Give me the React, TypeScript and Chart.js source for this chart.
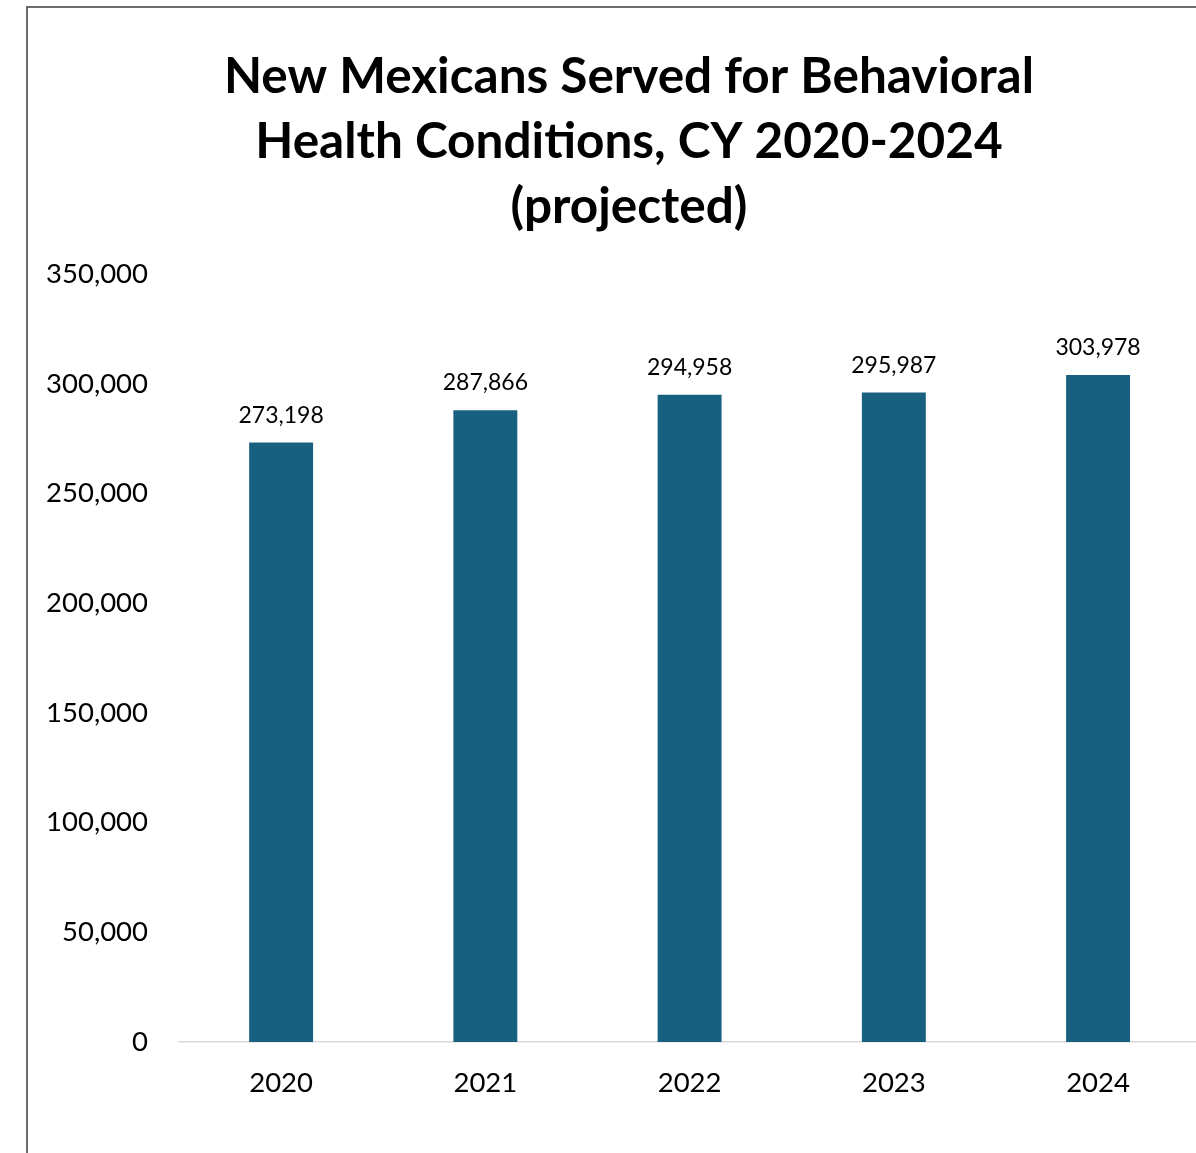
import React, { useEffect, useRef } from "react";
import { Chart, registerables } from "chart.js";

Chart.register(...registerables);

const categories = ["2020", "2021", "2022", "2023", "2024"];
const served = [273198, 287866, 294958, 295987, 303978];
const titleLines = [
  "New Mexicans Served for Behavioral",
  "Health Conditions, CY 2020-2024",
  "(projected)",
];

const FONT = "Lato, 'Open Sans', sans-serif";

const valueLabels = {
  id: "valueLabels",
  afterDatasetsDraw(chart: any) {
    const ctx = chart.ctx;
    const meta = chart.getDatasetMeta(0);
    ctx.save();
    ctx.font = `23px ${FONT}`;
    ctx.fillStyle = "#000";
    ctx.textAlign = "center";
    ctx.textBaseline = "alphabetic";
    meta.data.forEach((bar: any, i: number) => {
      ctx.fillText(served[i].toLocaleString("en-US"), bar.x, bar.y - 20);
    });
    ctx.restore();
  },
};

export default function App() {
  const ref = useRef<HTMLCanvasElement>(null);
  useEffect(() => {
    if (!ref.current) return;
    const points = categories.map((_, i) => ({ x: i, y: served[i] }));
    const chart = new Chart(ref.current, {
      type: "bar",
      data: {
        datasets: [
          {
            data: points,
            backgroundColor: "#186080",
            categoryPercentage: 1,
            barPercentage: 0.313,
          },
        ],
      },
      options: {
        animation: false,
        responsive: false,
        maintainAspectRatio: false,
        layout: { padding: { right: 0, bottom: 36, left: 0, top: 0 } },
        plugins: {
          legend: { display: false },
          tooltip: { enabled: false },
          title: {
            display: true,
            text: titleLines,
            color: "#000",
            font: { family: FONT, size: 49.5, weight: "bold", lineHeight: 1.32 },
            padding: { top: 36, bottom: 34 },
          },
        },
        scales: {
          x: {
            type: "linear",
            min: -0.5,
            max: 4.646,
            offset: false,
            grid: { display: false },
            border: { display: true, color: "#d9d9d9", width: 1.5 },
            ticks: {
              stepSize: 1,
              includeBounds: false,
              autoSkip: false,
              maxRotation: 0,
              color: "#000",
              font: { family: FONT, size: 27.5 },
              padding: 17,
              callback: (v: any) =>
                Number.isInteger(Number(v)) && categories[Number(v)] !== undefined
                  ? categories[Number(v)]
                  : "",
            },
          },
          y: {
            min: 0,
            max: 350000,
            grid: { display: false },
            border: { display: false },
            afterFit: (s: any) => {
              s.width = 151;
            },
            ticks: {
              stepSize: 50000,
              color: "#000",
              font: { family: FONT, size: 27.5 },
              padding: 23,
              callback: (v: any) => Number(v).toLocaleString("en-US"),
            },
          },
        },
      },
      plugins: [valueLabels],
    });
    return () => chart.destroy();
  }, []);

  return (
    <div
      style={{
        position: "absolute",
        left: 0,
        top: 0,
        width: 1196,
        height: 1153,
        overflow: "hidden",
        background: "#fff",
      }}
    >
      <div
        style={{
          position: "absolute",
          left: 26,
          top: 6,
          width: 1300,
          height: 1300,
          borderLeft: "2px solid #6b6b6b",
          borderTop: "2px solid #6b6b6b",
        }}
      />
      <canvas
        ref={ref}
        width={1202}
        height={1145}
        style={{ position: "absolute", left: 28, top: 8, width: 1202, height: 1145 }}
      />
    </div>
  );
}
